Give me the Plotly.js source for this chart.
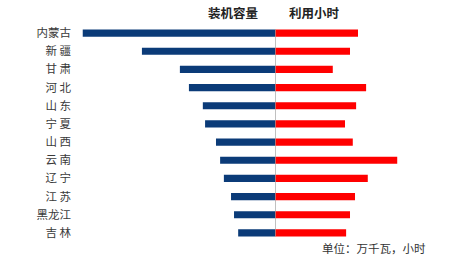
<!DOCTYPE html>
<html>
<head>
<meta charset="utf-8">
<script src="https://cdn.plot.ly/plotly-3.0.1.min.js"></script>
<style>html,body{margin:0;padding:0;background:#fff;}#chart{width:463px;height:269px;}</style>
</head>
<body>
<div id="chart"></div>
<script>
const provinces = ["内蒙古", "新 疆", "甘 肃", "河 北", "山 东", "宁 夏", "山 西", "云 南", "辽 宁", "江 苏", "黑龙江", "吉 林"];
const capacity = [2557, 1770, 1265, 1145, 960, 930, 785, 730, 680, 585, 545, 490];
const hours = [1494, 1350, 1040, 1640, 1460, 1260, 1400, 2200, 1670, 1440, 1350, 1280];
const seriesNames = ["装机容量", "利用小时"];
const unitLabel = "单位：万千瓦，小时";

const font = "'Noto Sans CJK SC', 'Noto Sans', sans-serif";
const split = 0.5155;

const traces = [
  {type: "bar", orientation: "h", y: provinces, x: capacity, xaxis: "x", yaxis: "y",
   marker: {color: "#0b3b78"}, width: 0.39, name: seriesNames[0], hoverinfo: "x+y"},
  {type: "bar", orientation: "h", y: provinces, x: hours, xaxis: "x2", yaxis: "y",
   marker: {color: "#ff0000"}, width: 0.39, name: seriesNames[1], hoverinfo: "x+y"}
];

const layout = {
  width: 463, height: 269,
  margin: {l: 75, r: 0, t: 24, b: 27},
  paper_bgcolor: "#fff", plot_bgcolor: "#fff",
  showlegend: false,
  font: {family: font, size: 11, color: "#333"},
  xaxis: {domain: [0, split], range: [2660, 0], showgrid: false, zeroline: false,
          showticklabels: false, ticks: "", showline: false, fixedrange: true},
  xaxis2: {domain: [split, 1], range: [0, 3384], anchor: "y", showgrid: false, zeroline: false,
           showticklabels: false, ticks: "", showline: false, fixedrange: true},
  yaxis: {type: "category", autorange: "reversed", showgrid: false, zeroline: false,
          ticks: "", showline: false, tickfont: {family: font, size: 11.5, color: "#3a3a3a"},
          ticklabelstandoff: 3, fixedrange: true},
  shapes: [
    {type: "line", xref: "x2", yref: "y", x0: 0, x1: 0, y0: -0.22, y1: 11.2,
     line: {color: "#a0a0a0", width: 1.3}}
  ],
  annotations: [
    {text: "<b>" + seriesNames[0] + "</b>", xref: "paper", yref: "paper", x: 0.4085, y: 1.055,
     xanchor: "center", yanchor: "middle", showarrow: false, font: {family: font, size: 12.5, color: "#222"}},
    {text: "<b>" + seriesNames[1] + "</b>", xref: "paper", yref: "paper", x: 0.616, y: 1.055,
     xanchor: "center", yanchor: "middle", showarrow: false, font: {family: font, size: 12.5, color: "#222"}},
    {text: unitLabel, xref: "paper", yref: "paper", x: 0.631, y: -0.027,
     xanchor: "left", yanchor: "middle", showarrow: false, font: {family: font, size: 11.5, color: "#333"}}
  ]
};

Plotly.newPlot("chart", traces, layout, {displayModeBar: false, staticPlot: true});
</script>
</body>
</html>
